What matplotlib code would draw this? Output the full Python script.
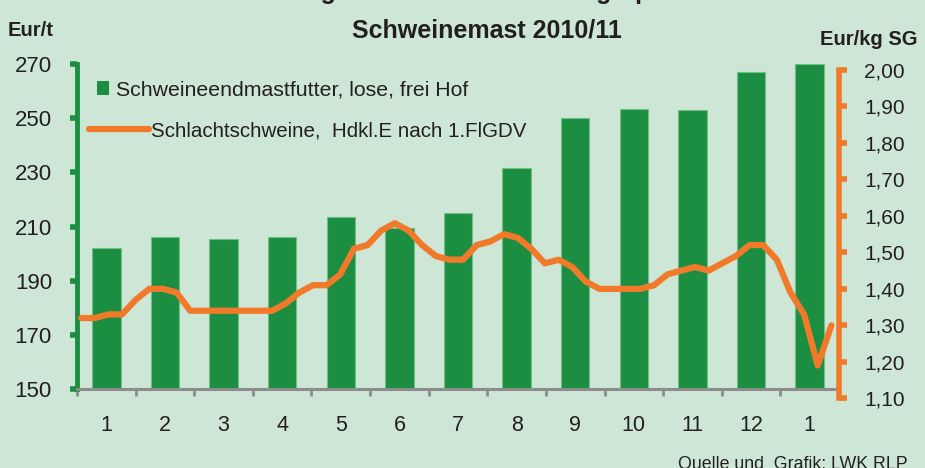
from matplotlib import pyplot as plt
from matplotlib.lines import Line2D
from matplotlib.patches import Patch
import numpy as np

# monthly feed price (Eur/t), Jan 2010 .. Jan 2011
months = ["1", "2", "3", "4", "5", "6", "7", "8", "9", "10", "11", "12", "1"]
feed_price = [202, 206, 205.5, 206, 213.5, 209.5, 215, 231.5, 250, 253.5, 253, 267, 270]

# weekly pig price (Eur/kg SG)
pig_price = [1.32, 1.32, 1.33, 1.33, 1.37, 1.40, 1.40, 1.39, 1.34, 1.34,
             1.34, 1.34, 1.34, 1.34, 1.34, 1.36, 1.39, 1.41, 1.41, 1.44,
             1.51, 1.52, 1.56, 1.58, 1.56, 1.52, 1.49, 1.48, 1.48, 1.52,
             1.53, 1.55, 1.54, 1.51, 1.47, 1.48, 1.46, 1.42, 1.40, 1.40,
             1.40, 1.40, 1.41, 1.44, 1.45, 1.46, 1.45, 1.47, 1.49, 1.52,
             1.52, 1.48, 1.39, 1.33, 1.19, 1.30]

left_ticks = [150, 170, 190, 210, 230, 250, 270]
right_ticks = [1.10, 1.20, 1.30, 1.40, 1.50, 1.60, 1.70, 1.80, 1.90, 2.00]

bg = "#cde6d5"
green = "#1b8e42"
orange = "#f07a2a"
gray = "#8c8c8c"
txt = "#231f20"
font = ["Liberation Sans Narrow", "Liberation Sans", "DejaVu Sans"]

plt.rcParams["font.family"] = font

fig = plt.figure(figsize=(9.25, 4.68), dpi=100, facecolor=bg)
W, H = 925, 468

# bars axis (left)
ax = fig.add_axes([77 / W, 1 - 389 / H, (839 - 77) / W, (389 - 64) / H])
ax.set_facecolor(bg)
x = np.arange(len(months))
bars = ax.bar(x, feed_price, width=0.485, color=green, edgecolor="#6fbf88",
              linewidth=0.8, zorder=2)
ax.set_xlim(-0.5, len(months) - 0.5)
ax.set_ylim(150, 270)
ax.set_yticks(left_ticks)
ax.set_yticklabels([str(t) for t in left_ticks])
ax.set_xticks(x)
ax.set_xticklabels(months)
ax.set_xticks(np.arange(-0.5, len(months)), minor=True)
ax.tick_params(axis="x", which="major", length=0, pad=19, labelsize=15.5,
               labelcolor=txt)
ax.tick_params(axis="x", which="minor", length=5, width=2, color=gray,
               direction="out")
ax.tick_params(axis="y", length=5, width=4, color=green, pad=13,
               labelsize=16, labelcolor=txt)
for s in ["top", "right"]:
    ax.spines[s].set_visible(False)
ax.spines["left"].set_color(green)
ax.spines["left"].set_linewidth(3.5)
ax.spines["bottom"].set_color(gray)
ax.spines["bottom"].set_linewidth(2.2)

# pig price axis (right)
ax2 = fig.add_axes([77 / W, 1 - 398.3 / H, (839 - 77) / W, (398.3 - 70) / H])
ax2.patch.set_visible(False)
wx = np.linspace(-0.43, 12.37, len(pig_price))
line, = ax2.plot(wx, pig_price, color=orange, lw=4.5, solid_joinstyle="round",
                 solid_capstyle="round", clip_on=False)
ax2.set_xlim(-0.5, len(months) - 0.5)
ax2.set_ylim(1.10, 2.00)
ax2.set_xticks([])
ax2.yaxis.tick_right()
ax2.set_yticks(right_ticks)
ax2.set_yticklabels([f"{t:.2f}".replace(".", ",") for t in right_ticks])
ax2.tick_params(axis="y", length=6, width=4, color=orange, pad=12,
                labelsize=15, labelcolor=txt)
for s in ["top", "left", "bottom"]:
    ax2.spines[s].set_visible(False)
ax2.spines["right"].set_color(orange)
ax2.spines["right"].set_linewidth(4)

# legends
leg1 = fig.legend([Patch(facecolor=green)], ["Schweineendmastfutter, lose, frei Hof"],
                  loc="center left", bbox_to_anchor=(97 / W, 1 - 90 / H),
                  frameon=False, fontsize=15.3, handlelength=0.58, handleheight=0.58,
                  handletextpad=0.33, borderpad=0, borderaxespad=0,
                  labelcolor=txt)
leg2 = fig.legend([Line2D([], [], color=orange, lw=4.5, solid_capstyle="round")],
                  ["Schlachtschweine,  Hdkl.E nach 1.FlGDV"],
                  loc="center left", bbox_to_anchor=(89 / W, 1 - 131 / H),
                  frameon=False, fontsize=14.8, handlelength=2.9,
                  handletextpad=0.12, borderpad=0, borderaxespad=0,
                  labelcolor=txt)

# titles and labels
fig.text(487 / W, 1 + 1 / H, "Entwicklung der Futter- und Erzeugerpreise in der",
         ha="center", va="baseline", fontsize=18, fontweight="bold", color=txt)
fig.text(487 / W, 1 - 37 / H, "Schweinemast 2010/11", ha="center", va="baseline",
         fontsize=18, fontweight="bold", color=txt)
fig.text(8 / W, 1 - 36 / H, "Eur/t", ha="left", va="baseline", fontsize=14.5,
         fontweight="bold", color=txt)
fig.text(820 / W, 1 - 45 / H, "Eur/kg SG", ha="left", va="baseline", fontsize=14.5,
         fontweight="bold", color=txt)
fig.text(678 / W, 1 - 469 / H, "Quelle und  Grafik: LWK RLP", ha="left",
         va="baseline", fontsize=12.8, color=txt)

plt.savefig("out.png", dpi=100, facecolor=bg)
